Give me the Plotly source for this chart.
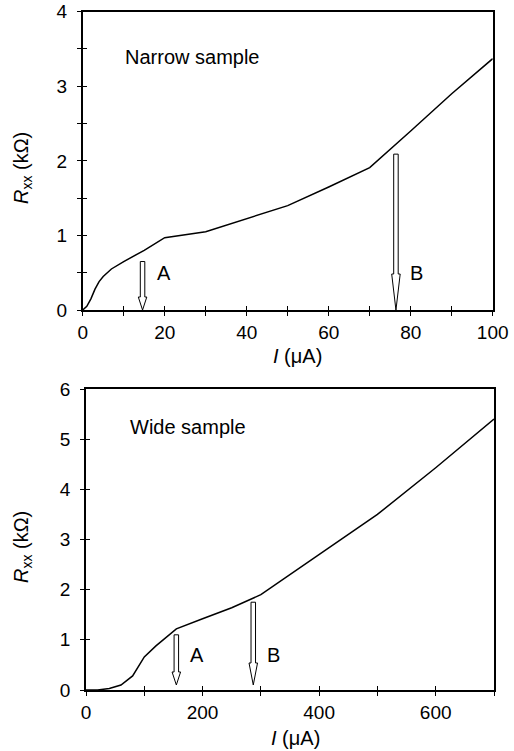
import plotly.graph_objects as go

# ---------------- data ----------------
narrow_I = [0, 1, 2, 3, 4, 5, 7, 10, 15, 20, 30, 40, 50, 60, 70, 80, 90, 100]
narrow_R = [0, 0.05, 0.15, 0.28, 0.38, 0.45, 0.55, 0.65, 0.8, 0.97, 1.05, 1.22, 1.4, 1.65, 1.91, 2.4, 2.9, 3.37]

wide_I = [0, 20, 40, 60, 80, 100, 120, 140, 155, 200, 250, 300, 400, 500, 600, 700]
wide_R = [0, 0, 0.03, 0.1, 0.28, 0.66, 0.88, 1.08, 1.22, 1.42, 1.64, 1.9, 2.7, 3.5, 4.43, 5.4]

# arrows: label, x position, top value, tip value, label x, label y
narrow_arrows = [("A", 14.6, 0.65, 0.0, 19.8, 0.49), ("B", 76.4, 2.09, 0.0, 81.5, 0.49)]
wide_arrows = [("A", 155, 1.1, 0.1, 191, 0.70), ("B", 287, 1.75, 0.1, 321, 0.70)]

narrow_title = "Narrow sample"
wide_title = "Wide sample"
narrow_x_range = [0, 100]
narrow_y_range = [0, 4]
wide_x_range = [0, 700]
wide_y_range = [0, 6]

# ---------------- layout geometry ----------------
W, H = 514, 751
top_px = dict(l=82.7, r=492.7, t=11.7, b=310)
bot_px = dict(l=86, r=494, t=389, b=690)

def dom(p):
    return [p["l"] / W, p["r"] / W], [1 - p["b"] / H, 1 - p["t"] / H]

tx, ty = dom(top_px)
bx, by = dom(bot_px)

FONT = "Liberation Sans, Arial, sans-serif"
fig = go.Figure()

fig.add_trace(go.Scatter(x=narrow_I, y=narrow_R, mode="lines",
                         line=dict(color="black", width=1.5), xaxis="x", yaxis="y",
                         showlegend=False))
fig.add_trace(go.Scatter(x=wide_I, y=wide_R, mode="lines",
                         line=dict(color="black", width=1.5), xaxis="x2", yaxis="y2",
                         showlegend=False))
# dummy traces for overlay axes (inner half of crossing ticks)
fig.add_trace(go.Scatter(x=[None], y=[None], xaxis="x3", yaxis="y3", showlegend=False, hoverinfo="skip"))
fig.add_trace(go.Scatter(x=[None], y=[None], xaxis="x4", yaxis="y4", showlegend=False, hoverinfo="skip"))

tickfont = dict(family=FONT, size=19, color="black")

def main_axis(domain, rng, dtick, minor, anchor, standoff):
    return dict(domain=domain, range=rng, anchor=anchor, dtick=dtick, tick0=0,
                showline=True, linecolor="black", linewidth=1.6, mirror=True,
                ticks="outside", ticklen=4, tickwidth=1.4, tickcolor="black",
                minor=dict(dtick=minor, ticks="outside", ticklen=4, tickwidth=1.4, tickcolor="black"),
                showgrid=False, zeroline=False, tickfont=tickfont, automargin=False,
                ticklabelstandoff=standoff, ticklabeloverflow="allow", fixedrange=True)

def overlay_axis(base, rng, dtick, minor, anchor):
    return dict(overlaying=base, range=rng, anchor=anchor, dtick=dtick, tick0=0,
                showline=False, ticks="inside", ticklen=4, tickwidth=1.4, tickcolor="black",
                minor=dict(dtick=minor, ticks="inside", ticklen=4, tickwidth=1.4, tickcolor="black"),
                showticklabels=False, showgrid=False, zeroline=False, automargin=False,
                fixedrange=True)

fig.update_layout(
    template="none",
    width=W, height=H, autosize=False,
    margin=dict(l=0, r=0, t=0, b=0, pad=0, autoexpand=False),
    paper_bgcolor="white", plot_bgcolor="white",
    font=dict(family=FONT, color="black"),
    xaxis=main_axis(tx, narrow_x_range, 20, 10, "y", 0),
    yaxis=main_axis(ty, narrow_y_range, 1, 0.5, "x", 6),
    xaxis2=main_axis(bx, wide_x_range, 200, 100, "y2", 0),
    yaxis2=main_axis(by, wide_y_range, 1, 1, "x2", 6),
    xaxis3=overlay_axis("x", narrow_x_range, 20, 10, "y3"),
    yaxis3=overlay_axis("y", narrow_y_range, 1, 0.5, "x3"),
    xaxis4=overlay_axis("x2", wide_x_range, 200, 100, "y4"),
    yaxis4=overlay_axis("y2", wide_y_range, 1, 1, "x4"),
)

# ---------------- arrows ----------------
def arrow_path(xa, yt, y0, sx, sy, shaft_px, head_w_px, head_l_px):
    dx = shaft_px / 2 / sx
    hw = head_w_px / 2 / sx
    dy = head_l_px / sy
    pts = [(xa - dx, yt), (xa + dx, yt), (xa + dx, y0 + dy), (xa + hw, y0 + dy),
           (xa, y0), (xa - hw, y0 + dy), (xa - dx, y0 + dy)]
    return "M " + " L ".join(f"{x},{y}" for x, y in pts) + " Z"

def add_arrows(arrows, xref, yref, p, xr, yr, head_lengths):
    sx = (p["r"] - p["l"]) / (xr[1] - xr[0])
    sy = (p["b"] - p["t"]) / (yr[1] - yr[0])
    for (lab, xa, yt, y0, lx, ly), hl in zip(arrows, head_lengths):
        fig.add_shape(type="path", xref=xref, yref=yref,
                      path=arrow_path(xa, yt, y0, sx, sy, 4.5, 8.5, hl),
                      fillcolor="white", line=dict(color="black", width=1))
        fig.add_annotation(x=lx, y=ly, xref=xref, yref=yref, text=lab, showarrow=False,
                           xanchor="center", yanchor="middle",
                           font=dict(family=FONT, size=20, color="black"))

add_arrows(narrow_arrows, "x", "y", top_px, narrow_x_range, narrow_y_range, [13, 36])
add_arrows(wide_arrows, "x2", "y2", bot_px, wide_x_range, wide_y_range, [13, 22])

# ---------------- texts ----------------
fig.add_annotation(x=9.9, y=3.39, xref="x", yref="y", text=narrow_title, showarrow=False,
                   xanchor="left", yanchor="middle", font=dict(family=FONT, size=20, color="black"))
fig.add_annotation(x=72.6, y=5.24, xref="x2", yref="y2", text=wide_title, showarrow=False,
                   xanchor="left", yanchor="middle", font=dict(family=FONT, size=20, color="black"))

ytitle = "<i>R</i><sub>xx</sub> (kΩ)"
xtitle = "<i>I</i> (μA)"
for (xc, yc) in [(23, 168), (22, 547)]:
    fig.add_annotation(x=xc / W, y=1 - yc / H, xref="paper", yref="paper", text=ytitle,
                       textangle=-90, showarrow=False, xanchor="center", yanchor="middle",
                       font=dict(family=FONT, size=20, color="black"))
for (xc, yc) in [(297, 356), (295, 738)]:
    fig.add_annotation(x=xc / W, y=1 - yc / H, xref="paper", yref="paper", text=xtitle,
                       showarrow=False, xanchor="center", yanchor="middle",
                       font=dict(family=FONT, size=20, color="black"))

# remove the browser's default 8px body margin so the figure sits at (0, 0)
fig.write_html("out.html", config={"displayModeBar": False},
               post_script="document.body.style.margin='0';document.body.style.overflow='hidden';")
